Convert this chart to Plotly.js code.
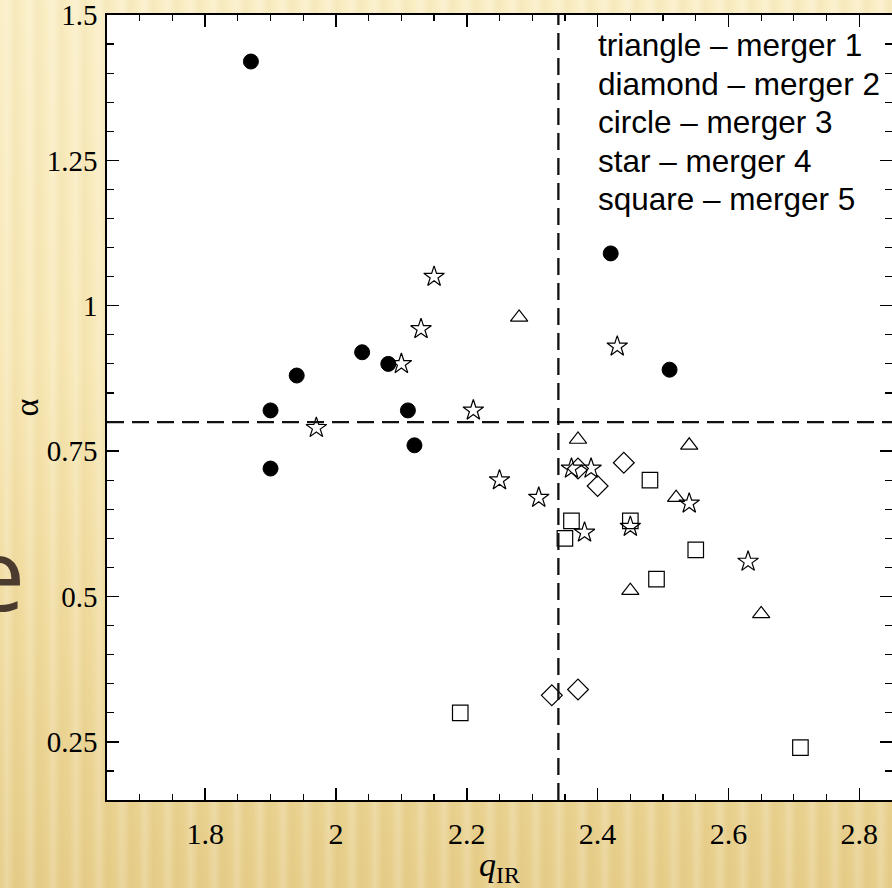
<!DOCTYPE html>
<html>
<head>
<meta charset="utf-8">
<script src="https://cdn.plot.ly/plotly-3.0.1.min.js"></script>
<style>
  html, body { margin: 0; padding: 0; }
  body {
    width: 892px; height: 888px; overflow: hidden;
    background:
      repeating-linear-gradient(90deg,
        rgba(255,255,255,0.00) 0px,
        rgba(255,255,255,0.20) 7px,
        rgba(200,170,90,0.08) 15px,
        rgba(255,255,255,0.00) 23px),
      linear-gradient(180deg, #faeec5 0%, #f8e8b6 40%, #f0db9e 70%, #e6cd89 100%);
  }
  #chart { width: 892px; height: 888px; }
</style>
</head>
<body>
<div id="chart"></div>
<script>
// ---- data ----
const triX = [2.28, 2.37, 2.54, 2.52, 2.45, 2.65];
const triY = [0.98, 0.77, 0.76, 0.67, 0.51, 0.47];

const diaX = [2.37, 2.44, 2.40, 2.33, 2.37];
const diaY = [0.72, 0.73, 0.69, 0.33, 0.34];

const cirX = [1.87, 2.42, 2.51, 2.04, 1.94, 2.08, 1.90, 2.11, 2.12, 1.90];
const cirY = [1.42, 1.09, 0.89, 0.92, 0.88, 0.90, 0.82, 0.82, 0.76, 0.72];

const starX = [2.15, 2.13, 2.10, 2.21, 1.97, 2.43, 2.25, 2.31, 2.36, 2.39, 2.38, 2.45, 2.54, 2.63];
const starY = [1.05, 0.96, 0.90, 0.82, 0.79, 0.93, 0.70, 0.67, 0.72, 0.72, 0.61, 0.62, 0.66, 0.56];

const sqX = [2.48, 2.36, 2.35, 2.45, 2.55, 2.49, 2.19, 2.71];
const sqY = [0.70, 0.63, 0.60, 0.63, 0.58, 0.53, 0.30, 0.24];

const qirCut = 2.34;     // vertical dashed line
const alphaCut = 0.8;    // horizontal dashed line

const xTickVals = [1.8, 2.0, 2.2, 2.4, 2.6, 2.8];
const xTickText = ['1.8', '2', '2.2', '2.4', '2.6', '2.8'];
const yTickVals = [0.25, 0.5, 0.75, 1.0, 1.25, 1.5];
const yTickText = ['0.25', '0.5', '0.75', '1', '1.25', '1.5'];

const xTitle = '<i>q</i><sub>IR</sub>';
const yTitle = '\u03b1';

const legendLines = [
  'triangle \u2013 merger 1',
  'diamond \u2013 merger 2',
  'circle \u2013 merger 3',
  'star \u2013 merger 4',
  'square \u2013 merger 5'
];

// ---- figure ----
const serif = 'Liberation Serif, Times New Roman, serif';
const sans = 'Liberation Sans, Arial, sans-serif';

function openTrace(x, y, symbol, size, name) {
  return {
    type: 'scatter', mode: 'markers', x: x, y: y, name: name,
    marker: { symbol: symbol, size: size, color: 'black', line: { color: 'black', width: 1.2 } },
    cliponaxis: false, hoverinfo: 'x+y'
  };
}

const traces = [
  openTrace(sqX, sqY, 'square-open', 15.5, 'merger 5'),
  openTrace(starX, starY, 'star-open', 15.5, 'merger 4'),
  openTrace(diaX, diaY, 'diamond-open', 16, 'merger 2'),
  openTrace(triX, triY, 'triangle-up-open', 15, 'merger 1'),
  {
    type: 'scatter', mode: 'markers', x: cirX, y: cirY, name: 'merger 3',
    marker: { symbol: 'circle', size: 15, color: 'black', line: { color: 'black', width: 1 } },
    cliponaxis: false, hoverinfo: 'x+y'
  }
];

const plotLeft = 107, plotW = 785;
const plotTop = 15, plotBottom = 800, plotH = plotBottom - plotTop;
const legendCenters = [45.5, 84, 122.5, 161, 199.5];
const annotations = legendLines.map((t, i) => ({
  text: t, xref: 'paper', yref: 'paper',
  x: 0.6225, y: (plotBottom - legendCenters[i]) / plotH,
  xanchor: 'left', yanchor: 'middle', showarrow: false,
  font: { family: sans, size: 31.5, color: '#000' }
}));
// y-axis title (alpha), placed like the reference
annotations.push({
  text: yTitle, xref: 'paper', yref: 'paper',
  x: (26 - plotLeft) / plotW, y: 0.5, xanchor: 'center', yanchor: 'middle',
  textangle: -90, showarrow: false,
  font: { family: serif, size: 34, color: '#000' }
});
// partially visible slide text on the left edge
annotations.push({
  text: 'e', xref: 'paper', yref: 'paper',
  x: -0.102, y: 0.2905, xanchor: 'right', yanchor: 'middle', showarrow: false,
  font: { family: 'Open Sans, Liberation Sans, sans-serif', size: 100, color: '#4b3b2f' }
});

const dash = '17px,8px';
const layout = {
  width: 892, height: 888,
  margin: { l: plotLeft, r: 0, t: plotTop, b: 88, pad: 0 },
  paper_bgcolor: 'rgba(0,0,0,0)',
  plot_bgcolor: '#ffffff',
  showlegend: false,
  xaxis: {
    range: [1.65, 2.85], autorange: false, automargin: false,
    tickmode: 'array', tickvals: xTickVals, ticktext: xTickText,
    ticks: 'inside', ticklen: 12, tickwidth: 1.5, tickcolor: '#000',
    minor: { tickmode: 'linear', tick0: 0, dtick: 0.05, ticks: 'inside', ticklen: 6, tickwidth: 1.2, tickcolor: '#000', showgrid: false },
    showline: true, linecolor: '#000', linewidth: 1.6, mirror: 'ticks',
    showgrid: false, zeroline: false,
    tickfont: { family: serif, size: 30, color: '#000' },
    ticklabelstandoff: 6, ticklabeloverflow: 'allow',
    title: { text: xTitle, font: { family: serif, size: 34, color: '#000' } }
  },
  yaxis: {
    range: [0.15, 1.5], autorange: false, automargin: false,
    tickmode: 'array', tickvals: yTickVals, ticktext: yTickText,
    ticks: 'inside', ticklen: 12, tickwidth: 1.5, tickcolor: '#000',
    minor: { tickmode: 'linear', tick0: 0, dtick: 0.05, ticks: 'inside', ticklen: 7, tickwidth: 1.2, tickcolor: '#000', showgrid: false },
    showline: true, linecolor: '#000', linewidth: 1.6, mirror: 'ticks',
    showgrid: false, zeroline: false,
    tickfont: { family: serif, size: 29, color: '#000' },
    ticklabelstandoff: 2, ticklabeloverflow: 'allow'
  },
  shapes: [
    { type: 'line', xref: 'x', yref: 'paper', x0: qirCut, x1: qirCut, y0: 0, y1: 1,
      line: { color: '#111', width: 2.3, dash: dash } },
    { type: 'line', xref: 'paper', yref: 'y', x0: 0, x1: 1, y0: alphaCut, y1: alphaCut,
      line: { color: '#111', width: 2.3, dash: dash } }
  ],
  annotations: annotations
};

Plotly.newPlot('chart', traces, layout, { displayModeBar: false, staticPlot: true });
</script>
</body>
</html>
